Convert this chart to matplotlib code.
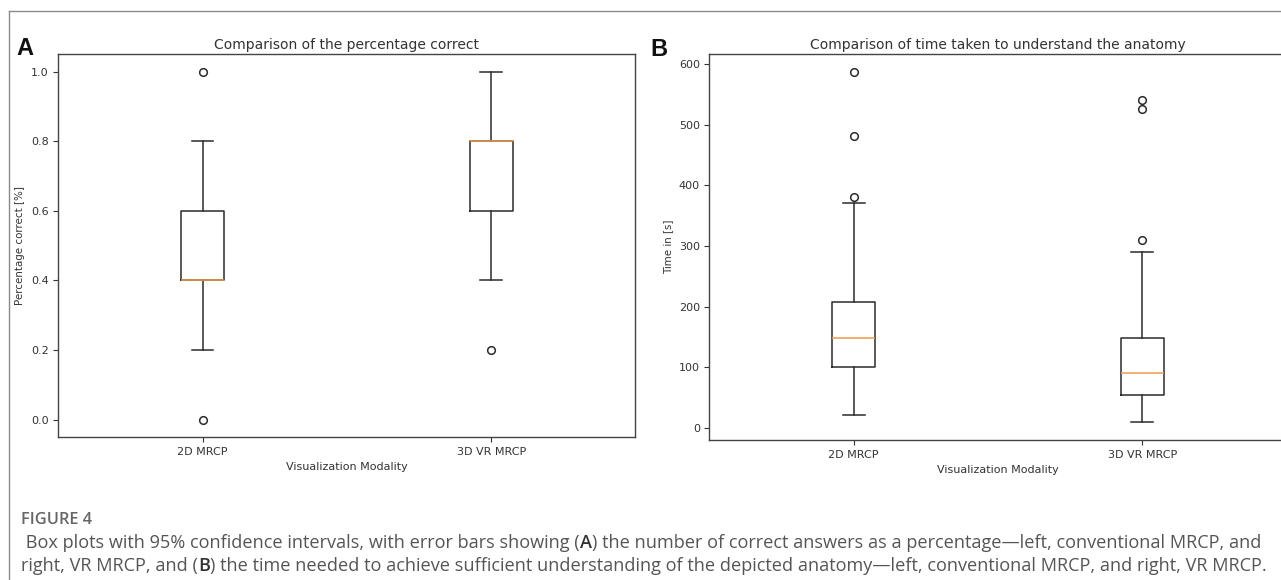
import matplotlib
matplotlib.use('Agg')
import matplotlib.pyplot as plt
from matplotlib.lines import Line2D
from matplotlib.text import Annotation

W, H = 1281, 580
DPI = 100

# ---------------- data ----------------
categories = ['2D MRCP', '3D VR MRCP']

# Panel A: percentage correct
pct_whislo = [0.2, 0.4]
pct_q1 = [0.4, 0.6]
pct_med = [0.4, 0.8]
pct_q3 = [0.6, 0.8]
pct_whishi = [0.8, 1.0]
pct_fliers = [[1.0, 0.0], [0.2]]

# Panel B: time taken [s]
time_whislo = [21, 9]
time_q1 = [100, 55]
time_med = [149, 90]
time_q3 = [208, 149]
time_whishi = [371, 290]
time_fliers = [[587, 481, 381], [541, 526, 310]]

title_a = 'Comparison of the percentage correct'
title_b = 'Comparison of time taken to understand the anatomy'
ylabel_a = 'Percentage correct [%]'
ylabel_b = 'Time in [s]'
xlabel = 'Visualization Modality'


def make_stats(lo, q1, med, q3, hi, fl):
    return [dict(whislo=lo[i], q1=q1[i], med=med[i], q3=q3[i], whishi=hi[i],
                 fliers=fl[i], label=categories[i]) for i in range(len(categories))]


plt.rcParams['font.family'] = ['DejaVu Sans']
fig = plt.figure(figsize=(W / DPI, H / DPI), dpi=DPI)
fig.patch.set_facecolor('white')

LC = '#2b2b2b'
TC = '#333333'
props = dict(
    boxprops=dict(color=LC, linewidth=1.1),
    whiskerprops=dict(color=LC, linewidth=1.1),
    capprops=dict(color=LC, linewidth=1.1),
    medianprops=dict(color='#f0994a', linewidth=1.1),
    flierprops=dict(marker='o', markerfacecolor='none', markeredgecolor=LC,
                    markersize=5.5, markeredgewidth=1.1),
)

axw = 577.0 / W
axA = fig.add_axes([58.4 / W, 1 - 437 / H, axw, (437 - 54.3) / H])
axB = fig.add_axes([709.5 / W, 1 - 440 / H, axw, (440 - 54.3) / H])

for ax, stats, title, ylab in [
    (axA, make_stats(pct_whislo, pct_q1, pct_med, pct_q3, pct_whishi, pct_fliers), title_a, ylabel_a),
    (axB, make_stats(time_whislo, time_q1, time_med, time_q3, time_whishi, time_fliers), title_b, ylabel_b),
]:
    ax.bxp(stats, **props)
    ax.set_title(title, fontsize=10, color=TC, pad=3.5)
    ax.set_ylabel(ylab, fontsize=7.4, color=TC)
    ax.set_xlabel(xlabel, fontsize=8, color=TC)
    ax.tick_params(labelsize=8, colors=TC)
    for s in ax.spines.values():
        s.set_color('#444444')
        s.set_linewidth(1.0)

axA.set_yticks([0.0, 0.2, 0.4, 0.6, 0.8, 1.0])

# panel letters
fig.text(16 / W, 1 - 55 / H, 'A', fontsize=17, fontweight='bold',
         family='Liberation Sans', color='#111111', va='baseline')
fig.text(650 / W, 1 - 56 / H, 'B', fontsize=17, fontweight='bold',
         family='Liberation Sans', color='#111111', va='baseline')

# page frame
fig.add_artist(Line2D([9 / W, 9 / W], [0, 1 - 11 / H], transform=fig.transFigure,
                      color='#8a8a8a', linewidth=1.0))
fig.add_artist(Line2D([9 / W, 1], [1 - 11 / H, 1 - 11 / H], transform=fig.transFigure,
                      color='#8a8a8a', linewidth=1.0))

# caption
CC = '#555555'
CF = 'Open Sans'
CS = 13.1
fig.text(21 / W, 1 - 524 / H, 'FIGURE 4', fontsize=11.8, family=CF, color='#666666',
         va='baseline', fontweight='semibold')


def chain(x_px, y_px, pieces):
    prev = fig.text(x_px / W, 1 - y_px / H, pieces[0][0], fontsize=CS, family=CF,
                    color=CC, va='baseline', fontweight=pieces[0][1])
    for txt, wt in pieces[1:]:
        prev = fig.add_artist(Annotation(
            txt, xy=(1, 1 - y_px / H), xycoords=(prev, 'figure fraction'),
            fontsize=CS, family=CF, color=(CC if wt == 'normal' else '#333333'),
            va='baseline', ha='left', fontweight=wt))


chain(21, 548, [(' Box plots with 95% confidence intervals, with error bars showing (', 'normal'),
                ('A', 'semibold'),
                (') the number of correct answers as a percentage\u2014left, conventional MRCP, and', 'normal')])
chain(21, 571, [('right, VR MRCP, and (', 'normal'),
                ('B', 'semibold'),
                (') the time needed to achieve sufficient understanding of the depicted anatomy\u2014left, conventional MRCP, and right, VR MRCP.', 'normal')])

fig.savefig('out.png', dpi=DPI, facecolor='white')
